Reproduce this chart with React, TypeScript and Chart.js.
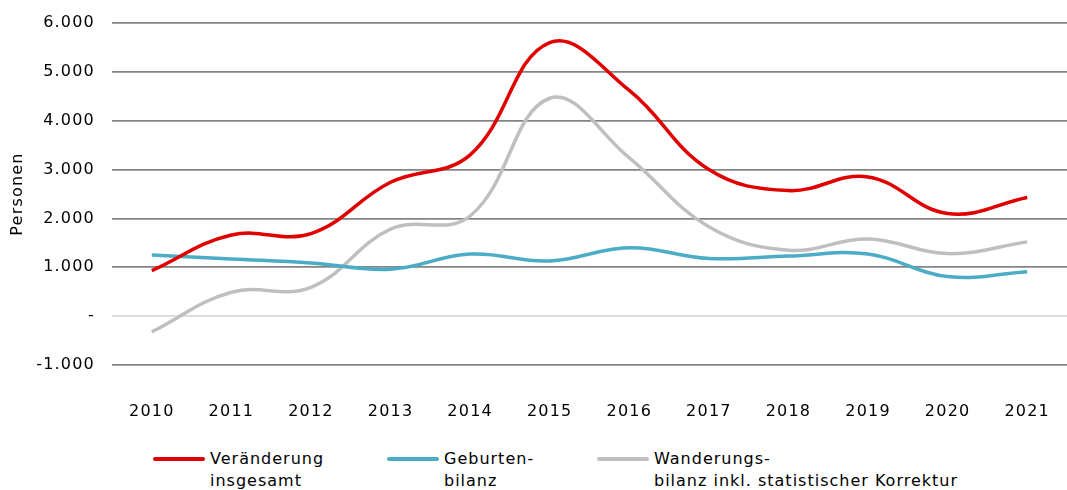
import React, { useEffect, useRef } from "react";
import { Chart, registerables } from "chart.js";

Chart.register(...registerables);

const years = ["2010", "2011", "2012", "2013", "2014", "2015", "2016", "2017", "2018", "2019", "2020", "2021"];
const veraenderung = [930, 1660, 1690, 2740, 3300, 5600, 4620, 3000, 2570, 2850, 2100, 2430];
const geburten = [1250, 1170, 1090, 960, 1270, 1130, 1400, 1180, 1230, 1270, 810, 910];
const wanderung = [-320, 490, 590, 1780, 2050, 4460, 3240, 1830, 1350, 1580, 1280, 1520];

const legendItems = [
  { lines: ["Veränderung", "insgesamt"], color: "#e00000", left: 153 },
  { lines: ["Geburten-", "bilanz"], color: "#4bacc6", left: 387 },
  { lines: ["Wanderungs-", "bilanz inkl. statistischer Korrektur"], color: "#bfbfbf", left: 597 },
];

const FONT = "'DejaVu Sans', sans-serif";

const spacingPlugin = {
  id: "letterSpacing",
  beforeInit(chart: any) {
    try { chart.ctx.letterSpacing = "1.2px"; } catch (e) {}
  },
  beforeDraw(chart: any) {
    try { chart.ctx.letterSpacing = "1.2px"; } catch (e) {}
  },
};

export default function App() {
  const ref = useRef<HTMLCanvasElement | null>(null);

  useEffect(() => {
    if (!ref.current) return;
    const chart = new Chart(ref.current, {
      type: "line",
      plugins: [spacingPlugin],
      data: {
        labels: years,
        datasets: [
          { label: "Veränderung insgesamt", data: veraenderung, borderColor: "#e00000", borderWidth: 3.5, tension: 0.4, pointRadius: 0, fill: false },
          { label: "Geburtenbilanz", data: geburten, borderColor: "#4bacc6", borderWidth: 3.5, tension: 0.4, pointRadius: 0, fill: false },
          { label: "Wanderungsbilanz", data: wanderung, borderColor: "#bfbfbf", borderWidth: 3.5, tension: 0.4, pointRadius: 0, fill: false },
        ],
      },
      options: {
        responsive: false,
        animation: false,
        devicePixelRatio: 1,
        layout: { padding: { top: 23, left: 0, right: 0, bottom: 0 } },
        plugins: { legend: { display: false }, tooltip: { enabled: false } },
        scales: {
          x: {
            offset: true,
            grid: { display: false, drawTicks: false },
            border: { display: false },
            ticks: { font: { family: FONT, size: 16 }, color: "#000", padding: 37, maxRotation: 0 },
            afterFit: (s: any) => { s.height = 60; s.paddingLeft = 0; s.paddingRight = 0; },
          },
          y: {
            min: -1000,
            max: 6000,
            grid: {
              drawTicks: false,
              color: (c: any) => (c.tick && c.tick.value === 0 ? "#d9d9d9" : "#848484"),
              lineWidth: 1.7,
            },
            border: { display: false },
            ticks: {
              stepSize: 1000,
              padding: 17,
              color: "#000",
              font: { family: FONT, size: 16 },
              callback: (v: any) => (v === 0 ? "-" : Number(v).toLocaleString("de-DE")),
            },
            title: { display: true, text: "Personen", font: { family: FONT, size: 16 }, color: "#000", padding: { top: 8, bottom: 0 } },
            afterFit: (s: any) => { s.width = 112; s.paddingTop = 0; s.paddingBottom = 0; },
          },
        },
      },
    });
    return () => chart.destroy();
  }, []);

  return (
    <div style={{ position: "absolute", left: 0, top: 0, width: 1067, height: 490, background: "#fff", overflow: "hidden" }}>
      <canvas ref={ref} width={1067} height={425} style={{ display: "block" }} />
      {legendItems.map((it) => (
        <div key={it.left} style={{ position: "absolute", left: it.left, top: 448, display: "flex", alignItems: "flex-start" }}>
          <div style={{ width: 52, height: 4, background: it.color, borderRadius: 2, marginTop: 9 }} />
          <div style={{ marginLeft: 5, fontFamily: FONT, fontSize: 16, lineHeight: "22px", color: "#000", letterSpacing: 1, whiteSpace: "nowrap" }}>
            {it.lines.map((l) => (
              <div key={l}>{l}</div>
            ))}
          </div>
        </div>
      ))}
    </div>
  );
}
